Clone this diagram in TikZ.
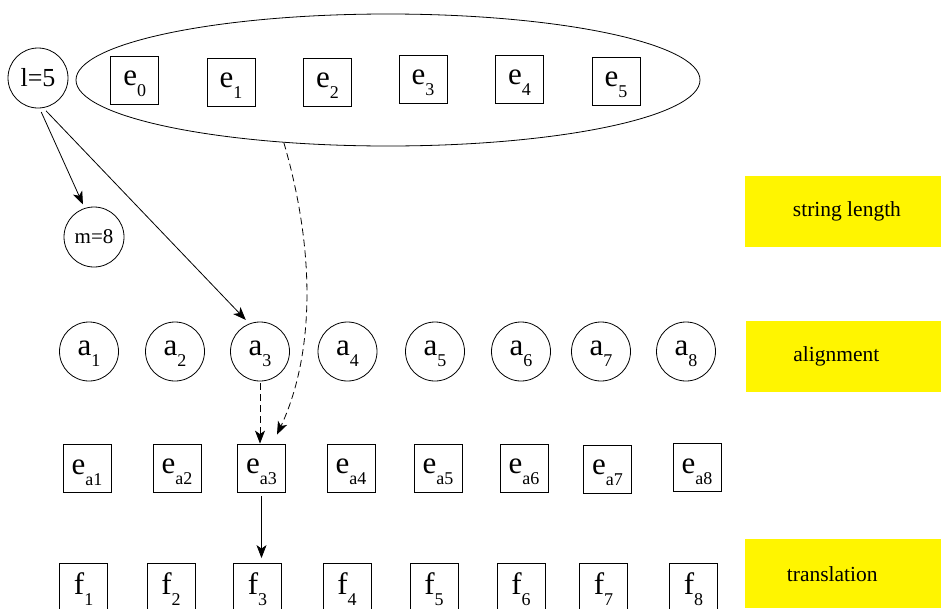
\documentclass[tikz,border=0pt]{standalone}
\usepackage{fontspec}
\setmainfont{Liberation Serif}
\newfontfamily\timesface{Liberation Serif}
\usetikzlibrary{shapes.geometric,arrows.meta,calc}
\definecolor{bandyellow}{RGB}{255,245,0}
% a letter with a lowered, smaller index
\newcommand\glyphsub[2]{{\timesface\fontsize{31}{31}\selectfont #1}\raisebox{-11pt}{\timesface\fontsize{18}{18}\selectfont #2}}

\begin{document}
\begin{tikzpicture}[x=1pt,y=-1pt,
  sq/.style={draw,line width=0.8pt,minimum size=48pt,inner sep=0pt,text height=21pt,text depth=11pt},
  rv/.style={draw,circle,line width=0.8pt,minimum size=59pt,inner sep=0pt},
  band/.style={fill=bandyellow,minimum width=196pt,minimum height=71pt,inner sep=0pt,
               font=\timesface\fontsize{21.5}{22}\selectfont},
  link/.style={line width=0.8pt,-{Stealth[length=13pt,width=10pt,inset=3.5pt]}},
  dlink/.style={link,dash pattern=on 7pt off 4pt}]
\useasboundingbox (0,0) rectangle (941,608);

% length variables
\node[rv,minimum size=60pt,font=\timesface\fontsize{26}{26}\selectfont] (l5) at (38,78) {l=5};
\node[rv,minimum size=60pt,font=\timesface\fontsize{21}{21}\selectfont] (m8) at (94,237) {m=8};

% source sentence
\node[draw,ellipse,line width=0.8pt,minimum width=624pt,minimum height=132pt,inner sep=0pt] (src) at (388,80) {};
\foreach \i/\x/\y in {0/134.7/80.5, 1/231/82, 2/327.5/82, 3/423/79.5, 4/519.5/79.5, 5/616/81}
  \node[sq] (e\i) at (\x,\y) {\glyphsub{e}{\i}};

% alignment variables
\foreach \i/\x in {1/89,2/175,3/260,4/347.5,5/435,6/521,7/601,8/686}
  \node[rv,text height=19pt,text depth=11pt] (a\i) at (\x,351.5) {\glyphsub{a}{\i}};

% aligned source words
\foreach \i/\x/\y in {1/87/468.5,2/177/468,3/261.5/468,4/351/468,5/438/468,6/524/468,7/607.5/469,8/697/467.5}
  \node[sq,text height=22pt] (ea\i) at (\x,\y) {\glyphsub{e}{a\i}};

% target words
\foreach \i/\x in {1/83.6,2/171,3/257.5,4/347,5/434,6/521,7/603.5,8/693.5}
  \node[sq,text height=25pt] (f\i) at (\x,587.5) {\glyphsub{f}{\i}};

% row labels
\node[band,anchor=north west] (b1) at (745,176) {\makebox[196pt][l]{\hspace{47.7pt}string length}};
\node[band,anchor=north west] (b2) at (746,321) {\makebox[195pt][l]{\hspace{46.7pt}alignment}};
\node[band,anchor=north west,minimum height=69pt] (b3) at (745,539) {\makebox[196pt][l]{\hspace{41.7pt}translation}};

% dependencies
\draw[link,shorten <=4pt,shorten >=4pt] (l5.-87) -- (m8.108);
\draw[link,shorten <=4pt,shorten >=5pt] (l5.-80) -- (a3.111);
\draw[dlink] (src.211) .. controls (318,260) and (312,360) .. ([xshift=15.5pt,yshift=9pt]ea3.north);
\draw[dlink,shorten <=2pt] (a3.south) -- (a3.south |- ea3.north);
\draw[link,shorten <=4pt,shorten >=5pt] (ea3.south) -- (ea3.south |- f3.north);
\end{tikzpicture}
\end{document}
